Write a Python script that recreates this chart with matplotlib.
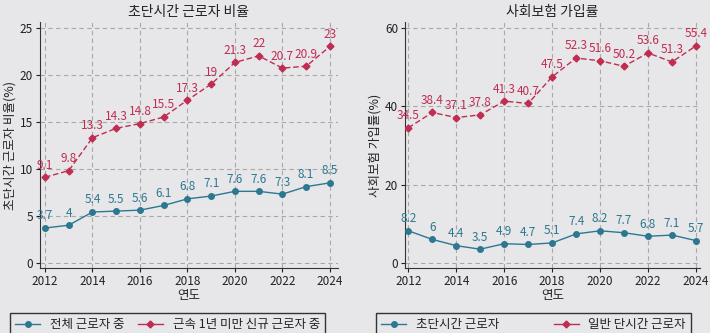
import matplotlib.pyplot as plt
from matplotlib.lines import Line2D

plt.rcParams['font.family'] = ['Noto Sans CJK KR', 'DejaVu Sans']

years = list(range(2012, 2025))

# left panel: 초단시간 근로자 비율
all_workers = [3.7, 4, 5.4, 5.5, 5.6, 6.1, 6.8, 7.1, 7.6, 7.6, 7.3, 8.1, 8.5]
new_workers = [9.1, 9.8, 13.3, 14.3, 14.8, 15.5, 17.3, 19, 21.3, 22, 20.7, 20.9, 23]

# right panel: 사회보험 가입률
ultra_short = [8.2, 6, 4.4, 3.5, 4.9, 4.7, 5.1, 7.4, 8.2, 7.7, 6.8, 7.1, 5.7]
part_time = [34.5, 38.4, 37.1, 37.8, 41.3, 40.7, 47.5, 52.3, 51.6, 50.2, 53.6, 51.3, 55.4]

bg = '#e7e7e9'
blue = '#2c7891'
red = '#c02c52'

fig = plt.figure(figsize=(7.1, 3.33), dpi=100, facecolor=bg)
ax1 = fig.add_axes([40 / 710, 1 - 268 / 333, 298 / 710, 246 / 333])
ax2 = fig.add_axes([405 / 710, 1 - 268 / 333, 295 / 710, 246 / 333])


def fmt(v):
    return f'{v:g}'


def draw(ax, blue_vals, red_vals, title, ylabel, yticks, ylim, xlim):
    ax.set_facecolor(bg)
    ax.plot(years, blue_vals, color=blue, lw=1, marker='o', ms=4, zorder=3)
    ax.plot(years, red_vals, color=red, lw=1, ls=(0, (4, 2)), marker='D', ms=3.5, zorder=3)
    for x, v in zip(years, blue_vals):
        ax.annotate(fmt(v), (x, v), xytext=(0, 4), textcoords='offset points',
                    ha='center', va='bottom', color=blue, fontsize=8.5)
    for x, v in zip(years, red_vals):
        ax.annotate(fmt(v), (x, v), xytext=(0, 4), textcoords='offset points',
                    ha='center', va='bottom', color=red, fontsize=8.5)
    ax.set_xticks(range(2012, 2025, 2))
    ax.set_yticks(yticks)
    ax.set_xlim(*xlim)
    ax.set_ylim(*ylim)
    ax.grid(True, ls=(0, (4, 3)), color='#a8a8a8', lw=0.8)
    ax.set_axisbelow(True)
    for s in ['top', 'right']:
        ax.spines[s].set_visible(False)
    for s in ['left', 'bottom']:
        ax.spines[s].set_color('#333333')
    ax.tick_params(labelsize=8.5, colors='#222222', length=3, pad=2)
    ax.set_title(title, fontsize=10, color='#222222', pad=4)
    ax.set_xlabel('연도', fontsize=9, color='#222222', labelpad=1)
    ax.set_ylabel(ylabel, fontsize=9, color='#222222', labelpad=2)


draw(ax1, all_workers, new_workers, '초단시간 근로자 비율', '초단시간 근로자 비율(%)',
     [0, 5, 10, 15, 20, 25], (-0.55, 25.6), (2011.79, 2024.34))
draw(ax2, ultra_short, part_time, '사회보험 가입률', '사회보험 가입률(%)',
     [0, 20, 40, 60], (-1.3, 61.5), (2011.86, 2024.17))


def legend(labels, x0):
    handles = [Line2D([], [], color=blue, marker='o', ms=4, lw=1),
               Line2D([], [], color=red, marker='D', ms=3.5, lw=1)]
    top = 1 - 313 / 333
    fig.legend(handles, labels, loc='upper left', ncol=2, mode='expand',
               bbox_to_anchor=(x0 / 710, top - 0.1, 315 / 710, 0.1),
               frameon=True, fancybox=False, edgecolor='#333333', facecolor=bg,
               fontsize=9, handlelength=2, borderaxespad=0, borderpad=0.4,
               labelcolor='#222222', framealpha=1)


legend(['전체 근로자 중', '근속 1년 미만 신규 근로자 중'], 10)
legend(['초단시간 근로자', '일반 단시간 근로자'], 376)

fig.savefig('out.png', dpi=100, facecolor=bg)
